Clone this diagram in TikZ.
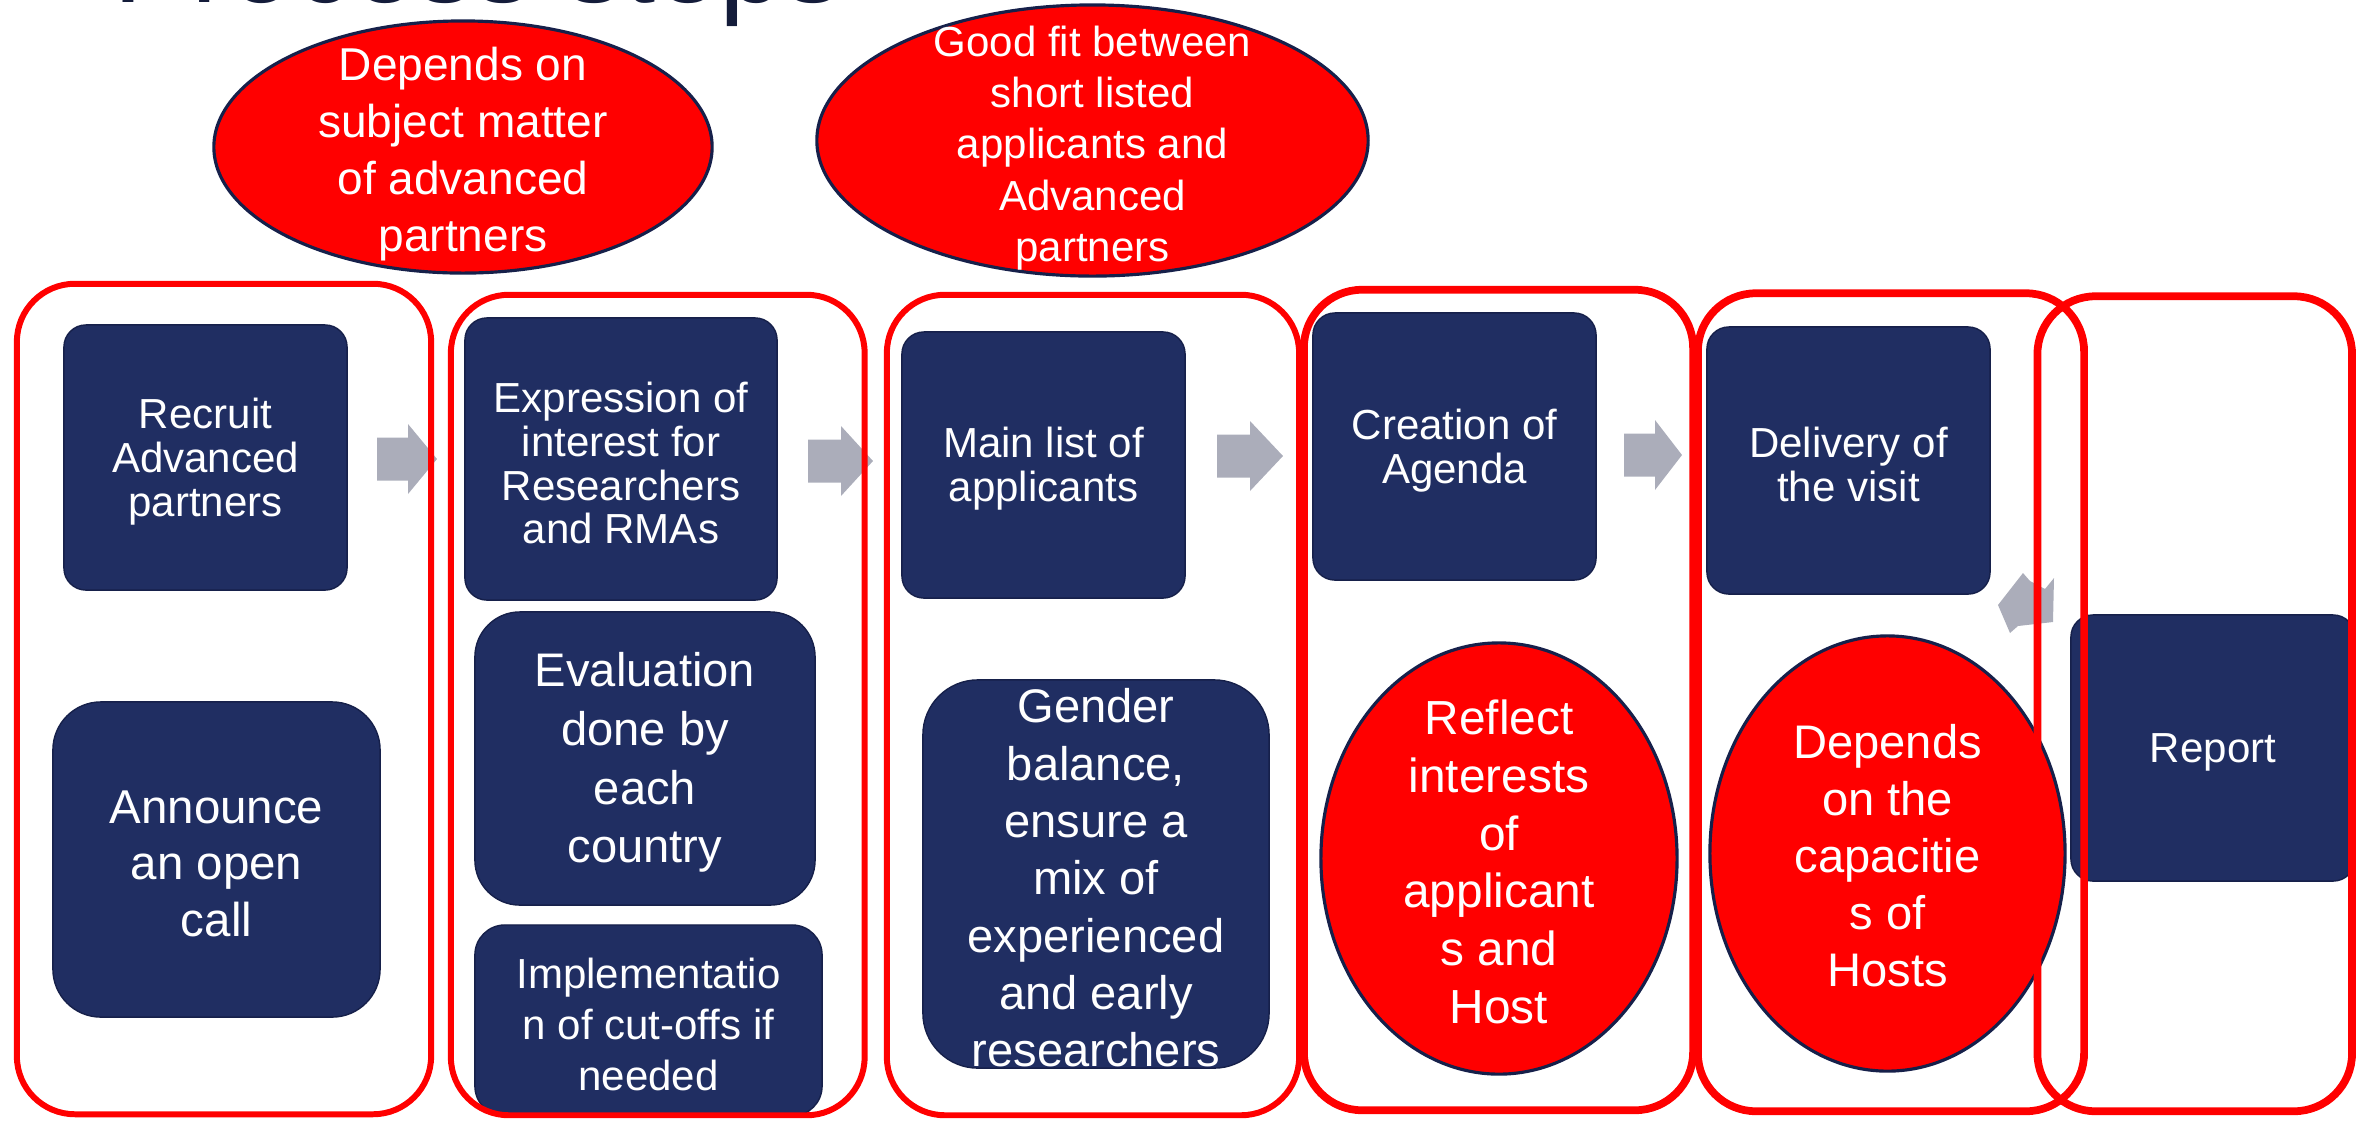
\documentclass[tikz,border=0pt]{standalone}
\usepackage{fontspec}
\setmainfont{Liberation Sans}
\usetikzlibrary{shapes.geometric}
\definecolor{navy}{RGB}{32,46,98}
\definecolor{navyline}{RGB}{22,32,74}
\definecolor{pred}{RGB}{255,0,0}
\definecolor{agray}{RGB}{171,173,186}
\definecolor{titlec}{RGB}{20,28,58}
\tikzset{
  navybox/.style={rectangle, fill=navy, draw=navyline, line width=0.4pt, inner sep=0pt},
  redell/.style={ellipse, fill=pred, draw=navyline, line width=0.9pt, inner sep=0pt},
  whitetext/.style={text=white, align=center, inner sep=0pt, yshift=-0.04cm},
  colthin/.style={rectangle, draw=pred, line width=1.7pt, rounded corners=0.58cm, inner sep=0pt},
  colthick/.style={rectangle, draw=pred, line width=2.2pt, rounded corners=0.58cm, inner sep=0pt},
  garrow/.style={fill=agray},
  fsmall/.style={font=\fontsize{11.95}{12.5}\selectfont},
}
\newcommand{\blockarrow}[4]{%
  \fill[garrow] (#1,#4-21.5) -- (#2,#4-21.5) -- (#2,#4-35) -- (#3,#4) -- (#2,#4+35) -- (#2,#4+21.5) -- (#1,#4+21.5) -- cycle;}
\begin{document}
\begin{tikzpicture}[x=0.01cm,y=-0.01cm]
\useasboundingbox (0,0) rectangle (2374,1120);
\clip (0,0) rectangle (2374,1120);

% title (cut off at the top)
\node[anchor=base west, inner sep=0pt, text=titlec, font=\fontsize{33}{33}\selectfont] (title) at (113,2) {Process steps};

% top ellipses
\node[redell, minimum width=4.98cm, minimum height=2.52cm] (e1) at (463,147) {};
\node[whitetext, font=\fontsize{13.1}{16.2}\selectfont] (e1t) at (463,150)
  {Depends on\\subject matter\\of advanced\\partners};
\node[redell, minimum width=5.51cm, minimum height=2.71cm] (e2) at (1092.5,140.5) {};
\node[whitetext, font=\fontsize{11.95}{14.6}\selectfont] (e2t) at (1092.5,144)
  {Good fit between\\short listed\\applicants and\\Advanced\\partners};

% gray arrows
\blockarrow{377}{408}{437}{459}
\blockarrow{808}{841}{873}{461}
\blockarrow{1217}{1250}{1283}{456}
\blockarrow{1624}{1655}{1682}{455}
\fill[garrow] (2054,578) -- (2045,589) -- (2030,581) -- (2023,573) -- (1998,605) -- (2010,633) -- (2018,626) -- (2053,622) -- cycle;

% navy boxes
\node[navybox, rounded corners=0.22cm, minimum width=2.83cm, minimum height=2.65cm] (recruit) at (205.5,457.5) {};
\node[whitetext, fsmall] (recruitt) at (recruit.center) {Recruit\\Advanced\\partners};
\node[navybox, rounded corners=0.48cm, minimum width=3.27cm, minimum height=3.15cm] (announce) at (216.5,859.5) {};
\node[whitetext, font=\fontsize{13.5}{16.1}\selectfont] (announcet) at (announce.center) {Announce\\an open\\call};
\node[navybox, rounded corners=0.22cm, minimum width=3.12cm, minimum height=2.82cm] (expression) at (621,459) {};
\node[whitetext, fsmall] (expressiont) at (expression.center) {Expression of\\interest for\\Researchers\\and RMAs};
\node[navybox, rounded corners=0.45cm, minimum width=3.40cm, minimum height=2.93cm] (evaluation) at (645,758.5) {};
\node[whitetext, font=\fontsize{13.4}{16.7}\selectfont] (evaluationt) at (evaluation.center) {Evaluation\\done by\\each\\country};
\node[navybox, rounded corners=0.30cm, minimum width=3.47cm, minimum height=1.91cm] (implementation) at (648.5,1020.5) {};
\node[whitetext, font=\fontsize{11.95}{14.5}\selectfont] (implementationt) at (implementation.center) {Implementatio\\n of cut-offs if\\needed};
\node[navybox, rounded corners=0.22cm, minimum width=2.83cm, minimum height=2.66cm] (mainlist) at (1043.5,465) {};
\node[whitetext, fsmall] (mainlistt) at (mainlist.center) {Main list of\\applicants};
\node[navybox, rounded corners=0.55cm, minimum width=3.46cm, minimum height=3.88cm] (gender) at (1096,874) {};
\node[whitetext, font=\fontsize{13.4}{16.3}\selectfont] (gendert) at (gender.center) {Gender\\balance,\\ensure a\\mix of\\experienced\\and early\\researchers};
\node[navybox, rounded corners=0.22cm, minimum width=2.83cm, minimum height=2.67cm] (creation) at (1454.5,446.5) {};
\node[whitetext, fsmall] (creationt) at (creation.center) {Creation of\\Agenda};
\node[navybox, rounded corners=0.22cm, minimum width=2.83cm, minimum height=2.67cm] (delivery) at (1848.5,460.5) {};
\node[whitetext, fsmall] (deliveryt) at (delivery.center) {Delivery of\\the visit};
\node[navybox, rounded corners=0.22cm, minimum width=2.84cm, minimum height=2.66cm] (report) at (2213,748) {};
\node[whitetext, fsmall] (reportt) at (report.center) {Report};

% red ellipses inside columns
\node[redell, minimum width=3.56cm, minimum height=4.31cm] (reflect) at (1499,858.5) {};
\node[whitetext, font=\fontsize{13.6}{16.4}\selectfont] (reflectt) at (1499,858)
  {Reflect\\interests\\of\\applicant\\s and\\Host};
\node[redell, minimum width=3.55cm, minimum height=4.35cm] (capacities) at (1887.5,853.5) {};
\node[whitetext, font=\fontsize{13.4}{16.2}\selectfont] (capacitiest) at (1887.5,852)
  {Depends\\on the\\capacitie\\s of\\Hosts};

% red column frames (on top)
\node[colthin, minimum width=4.14cm, minimum height=8.30cm] (c1) at (224,699) {};
\node[colthin, minimum width=4.135cm, minimum height=8.20cm] (c2) at (657.75,705) {};
\node[colthin, minimum width=4.12cm, minimum height=8.20cm] (c3) at (1093,705) {};
\node[colthick, minimum width=3.89cm, minimum height=8.20cm] (c4) at (1498.5,700) {};
\node[colthick, minimum width=3.86cm, minimum height=8.175cm] (c5) at (1891,702.25) {};
\node[colthick, minimum width=3.145cm, minimum height=8.145cm] (c6) at (2194.75,703.75) {};
\end{tikzpicture}
\end{document}
